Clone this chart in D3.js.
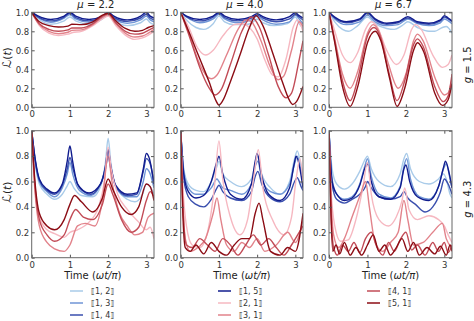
<!DOCTYPE html>
<html><head><meta charset="utf-8">
<script src="https://cdn.jsdelivr.net/npm/d3@7"></script>
<style>body{margin:0;background:#fff}svg{display:block;font-family:"DejaVu Sans",sans-serif}</style>
</head><body><svg id="c" width="474" height="321"></svg>
<script>
const seriesNames = ["⟦1, 2⟧","⟦1, 3⟧","⟦1, 4⟧","⟦1, 5⟧","⟦2, 1⟧","⟦3, 1⟧","⟦4, 1⟧","⟦5, 1⟧"];
const muLabels = ["2.2","4.0","6.7"];
const gLabels = ["1.5","4.3"];
const xTicks = [0,1,2,3];
const yTicks = [0,0.2,0.4,0.6,0.8,1.0];
const xDomain = [0,3.2];

// g = 1.5, mu = 2.2
const g15_mu22 = [
 [[0,1],[0.15,0.94],[0.5,0.875],[0.85,0.91],[1,0.95],[1.15,0.91],[1.5,0.875],[1.85,0.93],[2,0.98],[2.15,0.92],[2.5,0.86],[2.85,0.89],[3,0.93],[3.1,0.89],[3.2,0.87]],
 [[0,1],[0.15,0.95],[0.5,0.895],[0.85,0.94],[1,0.975],[1.15,0.93],[1.5,0.895],[1.85,0.94],[2,0.99],[2.15,0.93],[2.5,0.885],[2.85,0.92],[3,0.96],[3.1,0.92],[3.2,0.9]],
 [[0,1],[0.15,0.955],[0.5,0.91],[0.85,0.95],[1,0.99],[1.15,0.945],[1.5,0.91],[1.85,0.95],[2,0.995],[2.15,0.945],[2.5,0.905],[2.85,0.94],[3,0.98],[3.1,0.94],[3.2,0.92]],
 [[0,1],[0.15,0.965],[0.5,0.925],[0.85,0.96],[1,1.0],[1.15,0.96],[1.5,0.925],[1.85,0.96],[2,1.0],[2.15,0.96],[2.5,0.92],[2.85,0.96],[3,1.0],[3.1,0.96],[3.2,0.94]],
 [[0,1],[0.2,0.86],[0.45,0.78],[0.7,0.755],[0.95,0.77],[1.0,0.775],[1.05,0.785],[1.3,0.8],[1.6,0.86],[1.85,0.93],[2.0,0.96],[2.2,0.86],[2.45,0.76],[2.7,0.715],[2.9,0.73],[3.05,0.76],[3.2,0.8]],
 [[0,1],[0.2,0.87],[0.45,0.8],[0.7,0.775],[0.95,0.79],[1.0,0.8],[1.05,0.81],[1.3,0.815],[1.6,0.87],[1.85,0.95],[2.0,0.975],[2.2,0.88],[2.45,0.78],[2.7,0.74],[2.9,0.75],[3.05,0.78],[3.2,0.82]],
 [[0,1],[0.2,0.88],[0.45,0.82],[0.7,0.8],[0.95,0.815],[1.0,0.825],[1.05,0.835],[1.3,0.835],[1.6,0.88],[1.85,0.96],[2.0,0.985],[2.2,0.89],[2.45,0.8],[2.7,0.77],[2.9,0.78],[3.05,0.81],[3.2,0.84]],
 [[0,1],[0.2,0.9],[0.45,0.86],[0.7,0.845],[0.95,0.855],[1.0,0.865],[1.05,0.875],[1.3,0.87],[1.6,0.9],[1.85,0.97],[2.0,0.99],[2.2,0.91],[2.45,0.83],[2.7,0.8],[2.9,0.81],[3.05,0.84],[3.2,0.86]]
];
// g = 1.5, mu = 4.0
const g15_mu40 = [
 [[0,1],[0.15,0.92],[0.4,0.84],[0.6,0.82],[0.85,0.88],[1,0.96],[1.15,0.9],[1.4,0.87],[1.7,0.87],[1.9,0.9],[2,0.93],[2.15,0.89],[2.45,0.86],[2.8,0.88],[3,0.95],[3.1,0.88],[3.2,0.83]],
 [[0,1],[0.15,0.95],[0.5,0.89],[0.85,0.93],[1,0.98],[1.15,0.93],[1.5,0.89],[1.85,0.92],[2,0.96],[2.15,0.92],[2.5,0.875],[2.85,0.9],[3,0.97],[3.1,0.93],[3.2,0.88]],
 [[0,1],[0.15,0.955],[0.5,0.91],[0.85,0.95],[1,0.99],[1.15,0.945],[1.5,0.91],[1.85,0.94],[2,0.97],[2.15,0.94],[2.5,0.9],[2.85,0.93],[3,0.98],[3.1,0.95],[3.2,0.92]],
 [[0,1],[0.15,0.96],[0.5,0.925],[0.85,0.96],[1,1.0],[1.15,0.96],[1.5,0.925],[1.85,0.955],[2,0.985],[2.15,0.955],[2.5,0.92],[2.85,0.955],[3,0.995],[3.1,0.965],[3.2,0.94]],
 [[0,1],[0.2,0.85],[0.45,0.62],[0.65,0.55],[0.85,0.6],[1.1,0.75],[1.4,0.87],[1.6,0.88],[1.8,0.84],[2.0,0.72],[2.2,0.5],[2.4,0.34],[2.55,0.32],[2.75,0.5],[2.95,0.85],[3.05,0.92],[3.2,0.8]],
 [[0,1],[0.2,0.8],[0.45,0.5],[0.7,0.32],[0.8,0.3],[0.95,0.34],[1.2,0.55],[1.5,0.82],[1.7,0.92],[1.85,0.9],[2.1,0.7],[2.35,0.42],[2.55,0.29],[2.7,0.33],[2.9,0.6],[3.1,0.9],[3.2,0.85]],
 [[0,1],[0.25,0.72],[0.5,0.42],[0.75,0.2],[0.9,0.13],[1.05,0.18],[1.3,0.45],[1.6,0.8],[1.85,0.95],[2.05,0.85],[2.3,0.55],[2.55,0.22],[2.75,0.1],[2.9,0.15],[3.1,0.5],[3.2,0.7]],
 [[0,1],[0.25,0.76],[0.5,0.51],[0.75,0.26],[0.9,0.09],[1.0,0.025],[1.1,0.07],[1.3,0.27],[1.55,0.55],[1.8,0.84],[1.97,0.965],[2.15,0.86],[2.4,0.58],[2.65,0.28],[2.85,0.07],[2.93,0.03],[3.03,0.06],[3.2,0.22]]
];
// g = 1.5, mu = 6.7
const g15_mu67 = [
 [[0,1],[0.15,0.9],[0.35,0.82],[0.5,0.8],[0.75,0.86],[1,0.95],[1.2,0.88],[1.5,0.83],[1.7,0.82],[1.9,0.86],[2.05,0.9],[2.3,0.84],[2.6,0.8],[2.75,0.8],[2.95,0.84],[3.05,0.85],[3.2,0.78]],
 [[0,1],[0.15,0.93],[0.45,0.87],[0.8,0.9],[1,0.97],[1.2,0.9],[1.5,0.86],[1.8,0.87],[2.05,0.93],[2.3,0.88],[2.6,0.86],[2.9,0.89],[3.0,0.93],[3.1,0.91],[3.2,0.88]],
 [[0,1],[0.15,0.94],[0.45,0.89],[0.8,0.92],[1,0.99],[1.2,0.92],[1.5,0.875],[1.8,0.89],[2.05,0.94],[2.3,0.89],[2.6,0.875],[2.9,0.91],[3.0,0.95],[3.1,0.93],[3.2,0.9]],
 [[0,1],[0.15,0.95],[0.45,0.9],[0.8,0.93],[1,1.0],[1.2,0.93],[1.5,0.885],[1.8,0.9],[2.05,0.955],[2.3,0.9],[2.6,0.885],[2.9,0.92],[3.0,0.965],[3.1,0.94],[3.2,0.91]],
 [[0,1],[0.15,0.8],[0.35,0.55],[0.55,0.47],[0.75,0.58],[0.95,0.82],[1.1,0.9],[1.25,0.85],[1.5,0.6],[1.75,0.45],[1.95,0.55],[2.15,0.82],[2.25,0.87],[2.4,0.82],[2.7,0.55],[2.95,0.42],[3.1,0.45],[3.2,0.55]],
 [[0,1],[0.15,0.72],[0.35,0.35],[0.55,0.2],[0.75,0.38],[1.0,0.78],[1.15,0.87],[1.3,0.8],[1.55,0.45],[1.8,0.2],[2.0,0.35],[2.2,0.7],[2.3,0.77],[2.45,0.7],[2.75,0.32],[3.0,0.13],[3.1,0.15],[3.2,0.3]],
 [[0,1],[0.15,0.7],[0.35,0.28],[0.55,0.07],[0.75,0.3],[1.0,0.75],[1.17,0.84],[1.32,0.76],[1.55,0.38],[1.77,0.07],[1.97,0.28],[2.2,0.66],[2.3,0.72],[2.45,0.64],[2.75,0.22],[2.97,0.06],[3.1,0.12],[3.2,0.35]],
 [[0,1],[0.15,0.68],[0.35,0.22],[0.55,0.01],[0.75,0.22],[1.0,0.68],[1.2,0.8],[1.35,0.7],[1.58,0.3],[1.77,0.01],[1.97,0.2],[2.2,0.6],[2.3,0.68],[2.47,0.58],[2.75,0.15],[2.95,0.02],[3.1,0.08],[3.2,0.25]]
];
// g = 4.3, mu = 2.2
const g43_mu22 = [
 [[0,1],[0.1,0.72],[0.2,0.58],[0.4,0.5],[0.6,0.46],[0.8,0.5],[0.92,0.56],[1.0,0.6],[1.1,0.55],[1.3,0.49],[1.6,0.48],[1.8,0.56],[1.93,0.75],[2.0,0.94],[2.07,0.75],[2.2,0.56],[2.5,0.46],[2.7,0.44],[2.9,0.5],[3.0,0.58],[3.1,0.56],[3.2,0.5]],
 [[0,1],[0.1,0.74],[0.2,0.6],[0.4,0.52],[0.6,0.48],[0.8,0.55],[0.93,0.66],[1.0,0.75],[1.08,0.65],[1.25,0.53],[1.55,0.49],[1.8,0.58],[1.93,0.72],[2.0,0.85],[2.07,0.72],[2.2,0.56],[2.5,0.48],[2.75,0.48],[2.92,0.6],[3.0,0.7],[3.1,0.66],[3.2,0.55]],
 [[0,1],[0.1,0.75],[0.2,0.61],[0.4,0.53],[0.6,0.5],[0.8,0.57],[0.93,0.7],[1.0,0.79],[1.08,0.7],[1.25,0.55],[1.55,0.5],[1.8,0.58],[1.93,0.7],[2.0,0.8],[2.07,0.7],[2.2,0.56],[2.5,0.49],[2.75,0.5],[2.92,0.68],[3.0,0.78],[3.1,0.74],[3.2,0.58]],
 [[0,1],[0.1,0.76],[0.2,0.62],[0.4,0.54],[0.6,0.51],[0.8,0.58],[0.93,0.76],[1.0,0.88],[1.07,0.76],[1.2,0.58],[1.5,0.51],[1.8,0.58],[1.93,0.72],[2.0,0.85],[2.07,0.72],[2.2,0.57],[2.5,0.5],[2.75,0.51],[2.92,0.7],[3.0,0.82],[3.08,0.78],[3.2,0.58]],
 [[0,1],[0.08,0.6],[0.2,0.32],[0.4,0.22],[0.6,0.19],[0.85,0.16],[1.0,0.2],[1.2,0.22],[1.5,0.28],[1.75,0.4],[1.9,0.6],[2.0,0.87],[2.08,0.7],[2.25,0.5],[2.5,0.38],[2.8,0.28],[3.0,0.22],[3.1,0.24],[3.2,0.15]],
 [[0,1],[0.08,0.55],[0.2,0.25],[0.4,0.12],[0.6,0.07],[0.85,0.05],[1.0,0.1],[1.2,0.25],[1.4,0.27],[1.65,0.25],[1.85,0.45],[2.0,0.8],[2.1,0.6],[2.3,0.35],[2.5,0.25],[2.7,0.18],[2.9,0.2],[3.05,0.32],[3.2,0.35]],
 [[0,1],[0.08,0.58],[0.2,0.3],[0.4,0.18],[0.6,0.13],[0.85,0.18],[1.0,0.3],[1.15,0.38],[1.35,0.32],[1.6,0.3],[1.85,0.42],[2.0,0.58],[2.12,0.5],[2.35,0.3],[2.6,0.2],[2.8,0.24],[3.0,0.45],[3.1,0.52],[3.2,0.48]],
 [[0,1],[0.08,0.62],[0.2,0.35],[0.4,0.25],[0.6,0.22],[0.85,0.3],[1.0,0.42],[1.12,0.49],[1.3,0.44],[1.6,0.36],[1.85,0.47],[2.0,0.62],[2.12,0.54],[2.35,0.4],[2.6,0.34],[2.8,0.4],[3.0,0.58],[3.1,0.56],[3.2,0.45]]
];
// g = 4.3, mu = 4.0
const g43_mu40 = [
 [[0,1],[0.08,0.7],[0.2,0.58],[0.4,0.53],[0.6,0.52],[0.8,0.6],[0.95,0.72],[1.0,0.76],[1.1,0.66],[1.3,0.6],[1.6,0.56],[1.85,0.62],[1.95,0.74],[2.02,0.8],[2.12,0.66],[2.35,0.55],[2.6,0.5],[2.85,0.6],[2.98,0.78],[3.05,0.84],[3.15,0.72],[3.2,0.64]],
 [[0,1],[0.08,0.68],[0.2,0.55],[0.4,0.5],[0.6,0.5],[0.8,0.55],[0.95,0.62],[1.0,0.6],[1.1,0.55],[1.3,0.53],[1.6,0.5],[1.85,0.58],[1.95,0.72],[2.02,0.76],[2.12,0.62],[2.35,0.52],[2.6,0.5],[2.85,0.58],[2.98,0.74],[3.05,0.8],[3.15,0.68],[3.2,0.6]],
 [[0,1],[0.08,0.62],[0.2,0.48],[0.4,0.42],[0.6,0.4],[0.8,0.46],[0.95,0.55],[1.0,0.57],[1.1,0.52],[1.3,0.47],[1.6,0.45],[1.85,0.52],[1.95,0.64],[2.02,0.68],[2.12,0.58],[2.35,0.47],[2.6,0.44],[2.85,0.5],[2.98,0.6],[3.05,0.63],[3.15,0.56],[3.2,0.53]],
 [[0,1],[0.08,0.66],[0.2,0.52],[0.4,0.47],[0.6,0.49],[0.8,0.6],[0.95,0.76],[1.0,0.8],[1.1,0.66],[1.3,0.5],[1.6,0.46],[1.85,0.58],[1.95,0.76],[2.0,0.82],[2.1,0.67],[2.3,0.5],[2.6,0.45],[2.85,0.55],[2.97,0.74],[3.02,0.8],[3.12,0.7],[3.2,0.55]],
 [[0,1],[0.05,0.6],[0.15,0.25],[0.3,0.1],[0.5,0.08],[0.7,0.2],[0.88,0.55],[1.0,0.92],[1.1,0.62],[1.3,0.32],[1.55,0.18],[1.75,0.3],[1.92,0.65],[2.03,0.85],[2.15,0.55],[2.4,0.3],[2.7,0.18],[2.9,0.32],[3.02,0.62],[3.12,0.78],[3.2,0.6]],
 [[0,1],[0.05,0.5],[0.12,0.15],[0.25,0.05],[0.45,0.08],[0.65,0.15],[0.85,0.35],[0.95,0.47],[1.05,0.3],[1.2,0.1],[1.4,0.05],[1.6,0.12],[1.8,0.08],[2.0,0.15],[2.2,0.05],[2.5,0.1],[2.8,0.2],[3.0,0.12],[3.2,0.3]],
 [[0,1],[0.05,0.45],[0.15,0.1],[0.3,0.08],[0.5,0.15],[0.7,0.1],[0.9,0.05],[1.1,0.15],[1.3,0.1],[1.5,0.02],[1.7,0.1],[1.9,0.18],[2.1,0.1],[2.3,0.15],[2.5,0.08],[2.7,0.02],[2.9,0.1],[3.1,0.2],[3.2,0.25]],
 [[0,1],[0.05,0.4],[0.12,0.08],[0.25,0.05],[0.4,0.1],[0.6,0.03],[0.8,0.12],[1.0,0.05],[1.2,0.02],[1.4,0.1],[1.6,0.15],[1.8,0.15],[1.95,0.35],[2.05,0.43],[2.15,0.3],[2.35,0.05],[2.6,0.02],[2.8,0.08],[3.0,0.05],[3.2,0.35]]
];
// g = 4.3, mu = 6.7
const g43_mu67 = [
 [[0,1],[0.08,0.7],[0.2,0.58],[0.4,0.54],[0.6,0.58],[0.8,0.68],[0.95,0.78],[1.0,0.8],[1.1,0.7],[1.3,0.6],[1.6,0.56],[1.85,0.66],[1.95,0.78],[2.02,0.82],[2.12,0.7],[2.35,0.6],[2.6,0.58],[2.85,0.62],[2.98,0.66],[3.05,0.62],[3.15,0.5],[3.2,0.47]],
 [[0,1],[0.08,0.62],[0.2,0.5],[0.4,0.46],[0.6,0.48],[0.8,0.58],[0.95,0.74],[1.0,0.78],[1.1,0.64],[1.3,0.5],[1.6,0.47],[1.85,0.56],[1.95,0.72],[2.02,0.78],[2.12,0.62],[2.35,0.48],[2.6,0.46],[2.85,0.56],[2.98,0.7],[3.05,0.74],[3.15,0.62],[3.2,0.55]],
 [[0,1],[0.08,0.58],[0.2,0.46],[0.4,0.43],[0.6,0.46],[0.8,0.5],[0.95,0.56],[1.0,0.6],[1.1,0.55],[1.3,0.48],[1.6,0.46],[1.85,0.48],[1.95,0.52],[2.05,0.47],[2.25,0.42],[2.5,0.36],[2.7,0.4],[2.9,0.52],[3.0,0.62],[3.1,0.58],[3.2,0.5]],
 [[0,1],[0.08,0.6],[0.2,0.5],[0.4,0.45],[0.6,0.47],[0.8,0.57],[0.93,0.7],[1.0,0.74],[1.1,0.6],[1.3,0.48],[1.6,0.46],[1.85,0.55],[1.95,0.7],[2.0,0.73],[2.1,0.6],[2.3,0.48],[2.6,0.45],[2.85,0.56],[2.97,0.7],[3.03,0.76],[3.13,0.66],[3.2,0.55]],
 [[0,1],[0.05,0.55],[0.15,0.25],[0.3,0.13],[0.5,0.14],[0.7,0.3],[0.88,0.55],[1.0,0.75],[1.1,0.5],[1.3,0.3],[1.55,0.25],[1.75,0.32],[1.9,0.45],[1.97,0.55],[2.08,0.38],[2.3,0.3],[2.6,0.33],[2.85,0.3],[3.0,0.25],[3.1,0.18],[3.2,0.12]],
 [[0,1],[0.05,0.5],[0.12,0.18],[0.25,0.08],[0.4,0.15],[0.6,0.32],[0.82,0.5],[0.95,0.6],[1.05,0.4],[1.2,0.12],[1.4,0.05],[1.6,0.12],[1.8,0.2],[1.95,0.45],[2.05,0.3],[2.2,0.1],[2.45,0.12],[2.7,0.2],[2.95,0.27],[3.05,0.15],[3.2,0.08]],
 [[0,1],[0.05,0.4],[0.12,0.08],[0.22,0.02],[0.35,0.1],[0.5,0.05],[0.65,0.12],[0.8,0.04],[0.95,0.15],[1.1,0.2],[1.25,0.08],[1.4,0.02],[1.55,0.12],[1.7,0.05],[1.85,0.14],[2.0,0.2],[2.15,0.06],[2.3,0.1],[2.5,0.02],[2.7,0.12],[2.85,0.05],[3.0,0.12],[3.1,0.04],[3.2,0.1]],
 [[0,1],[0.05,0.35],[0.1,0.05],[0.18,0.1],[0.28,0.03],[0.4,0.12],[0.55,0.02],[0.7,0.08],[0.85,0.02],[1.0,0.1],[1.15,0.18],[1.3,0.05],[1.45,0.1],[1.6,0.02],[1.75,0.08],[1.9,0.15],[2.05,0.05],[2.2,0.12],[2.35,0.02],[2.55,0.08],[2.75,0.03],[2.9,0.09],[3.05,0.02],[3.15,0.1],[3.2,0.05]]
];

const panels = [[g15_mu22,g15_mu40,g15_mu67],[g43_mu22,g43_mu40,g43_mu67]];
const colors = ["#a9cbe9","#6f95d6","#3a4fae","#101c8e","#f6b8c1","#e2838b","#c24c57","#8c0d15"];

const colX = [[31.7,154],[180.7,303],[329,452]];
const rowY = [[12.3,107.3],[130.7,257.7]];
const svg = d3.select("#c");
const defs = svg.append("defs");

panels.forEach((row,ri)=>row.forEach((pdata,ci)=>{
  const x = d3.scaleLinear().domain(xDomain).range(colX[ci]);
  const y = d3.scaleLinear().domain([0,1]).range([rowY[ri][1],rowY[ri][0]]);
  const id = `clip${ri}${ci}`;
  defs.append("clipPath").attr("id",id).append("rect")
    .attr("x",x.range()[0]).attr("y",y.range()[1])
    .attr("width",x.range()[1]-x.range()[0]).attr("height",y.range()[0]-y.range()[1]);
  const g = svg.append("g");
  const lg = g.append("g").attr("clip-path",`url(#${id})`);
  const line = d3.line().x(d=>x(d[0])).y(d=>y(d[1])).curve(d3.curveMonotoneX);
  pdata.forEach((s,si)=>{
    lg.append("path").datum(s).attr("d",line).attr("fill","none")
      .attr("stroke",colors[si]).attr("stroke-width",1.4).attr("stroke-linejoin","round");
  });
  const style = a=>{a.select(".domain").remove();a.selectAll(".tick line").attr("stroke","#555");
    a.selectAll("text").attr("fill","#333").style("font-size","8.5px").style("font-family","DejaVu Sans");};
  g.append("g").attr("transform",`translate(0,${y.range()[0]})`)
    .call(d3.axisBottom(x).tickValues(xTicks).tickSize(-3).tickPadding(4).tickFormat(d3.format("d"))).call(style);
  g.append("g").attr("transform",`translate(0,${y.range()[1]})`)
    .call(d3.axisTop(x).tickValues(xTicks).tickSize(-3).tickFormat("")).call(style);
  g.append("g").attr("transform",`translate(${x.range()[0]},0)`)
    .call(d3.axisLeft(y).tickValues(yTicks).tickSize(-3).tickPadding(2.5).tickFormat(d3.format(".1f"))).call(style);
  g.append("g").attr("transform",`translate(${x.range()[1]},0)`)
    .call(d3.axisRight(y).tickValues(yTicks).tickSize(-3).tickFormat("")).call(style);
  g.append("rect").attr("x",x.range()[0]).attr("y",y.range()[1])
    .attr("width",x.range()[1]-x.range()[0]).attr("height",y.range()[0]-y.range()[1])
    .attr("fill","none").attr("stroke","#666").attr("stroke-width",1);
  const cx = (x.range()[0]+x.range()[1])/2;
  if(ri===0){
    const t = g.append("text").attr("x",cx+3).attr("y",8).attr("text-anchor","middle")
      .style("font-size","10px").attr("fill","#222");
    t.append("tspan").style("font-style","italic").text("μ");
    t.append("tspan").text(" = "+muLabels[ci]);
  }
  if(ri===1){
    const t = g.append("text").attr("x",cx).attr("y",279).attr("text-anchor","middle")
      .style("font-size","10px").attr("fill","#222");
    t.append("tspan").text("Time (");
    t.append("tspan").style("font-style","italic").text("ωt/π");
    t.append("tspan").text(")");
  }
  const cy = (y.range()[0]+y.range()[1])/2;
  if(ci===0){
    const t = g.append("text").attr("transform",`translate(11,${cy-2}) rotate(-90)`).attr("text-anchor","middle")
      .style("font-size","10.5px").attr("fill","#222");
    t.append("tspan").style("font-style","italic").style("font-size","12px").text("ℒ");
    t.append("tspan").text("(");
    t.append("tspan").style("font-style","italic").text("t");
    t.append("tspan").text(")");
  }
  if(ci===2){
    const t = g.append("text").attr("transform",`translate(471,${cy+5}) rotate(-90)`).attr("text-anchor","middle")
      .style("font-size","10px").attr("fill","#222");
    t.append("tspan").style("font-style","italic").text("g");
    t.append("tspan").text(" = "+gLabels[ri]);
  }
}));

// legend
const legendCols = [[0,1,2],[3,4,5],[6,7]];
const legLineX = [70,218,367];
const legRowY = [291,303,315];
legendCols.forEach((col,c)=>col.forEach((si,r)=>{
  svg.append("line").attr("x1",legLineX[c]).attr("x2",legLineX[c]+13)
    .attr("y1",legRowY[r]).attr("y2",legRowY[r]).attr("stroke",colors[si]).attr("stroke-width",1.5);
  svg.append("text").attr("x",legLineX[c]+21).attr("y",legRowY[r]).attr("dy","0.35em")
    .style("font-size","8px").attr("fill","#333").text(seriesNames[si]);
}));
</script></body></html>
